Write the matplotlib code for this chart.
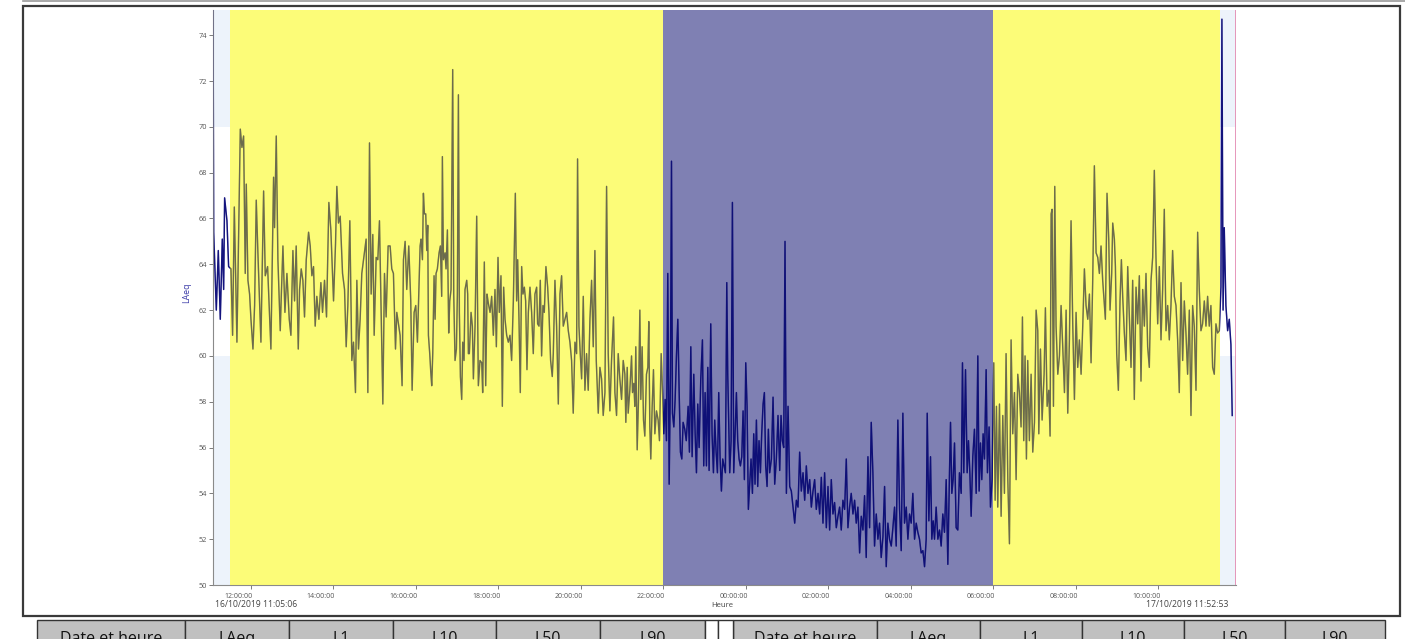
import matplotlib
matplotlib.use("Agg")
import matplotlib.pyplot as plt
import matplotlib.dates as mdates
import pandas as pd
from matplotlib.patches import Rectangle
from matplotlib.lines import Line2D
from matplotlib.transforms import ScaledTranslation

# ---------------- data ----------------
START = pd.Timestamp("2019-10-16 11:05:06")
END = pd.Timestamp("2019-10-17 11:52:53")
day1_start = pd.Timestamp("2019-10-16 11:30:00")
night_start = pd.Timestamp("2019-10-16 22:00:00")
night_end = pd.Timestamp("2019-10-17 06:00:00")
day2_end = pd.Timestamp("2019-10-17 11:30:00")

start_label = "16/10/2019 11:05:06"
end_label = "17/10/2019 11:52:53"
x_label = "Heure"
y_label = "LAeq"
y_ticks = [50, 52, 54, 56, 58, 60, 62, 64, 66, 68, 70, 72, 74]
tick_times = pd.date_range("2019-10-16 12:00", "2019-10-17 10:00", freq="2h")
table_headers = ["Date et heure", "LAeq", "L1", "L10", "L50", "L90"]

# minutes after START, LAeq (dB)
seg1_t = [0, 1, 4.8, 7.7, 10.6, 13.5, 15.5, 16.9, 20.3, 22.7, 26.1, 28.5, 31, 34.8, 39.7,
          42.1, 44.5, 46.9, 48.4, 50.8, 53.2, 55.2, 58.1, 60.5, 62.9, 65.3, 69.7, 73.6, 76, 79.4,
          84.2, 88.1, 89.5, 92, 94.4, 97.8, 99.2, 101.7, 104.6, 107.5, 110.9, 113.3, 116.2, 118.6, 121,
          124, 125.9, 128.3, 130.7, 133.1, 135.6, 139, 141.4, 143.8, 146.2, 148.6, 151, 154, 156.9, 159.3,
          162.2, 165.1, 168.5, 171.4, 175.3, 178.2, 180.1, 182.5, 185, 188.4, 191.3, 193.7, 196.1, 199, 201.9,
          204.3, 207.2, 209.2, 211.6, 214, 216.4, 219.8, 222.7, 225.2, 227.6, 230, 232.4, 234.4, 237.3, 239.7,
          242.1, 244.5, 247, 249.4, 251.8, 254.7, 257.6, 260, 262.4, 265.4, 267.3, 269.7, 272.1, 275, 277,
          279.4, 281.8, 284.7, 287.6, 289.6, 292.5, 294.9, 297.3]
seg1_v = [76, 65.4, 62.0, 64.6, 61.6, 65.1, 62.9, 66.9, 65.9, 63.9, 63.8, 60.9, 66.5, 60.6, 69.9,
          69.1, 69.6, 63.6, 67.5, 63.3, 62.7, 61.6, 60.3, 62.2, 66.8, 64.5, 60.6, 67.2, 63.5, 63.9,
          60.3, 67.8, 65.6, 69.6, 64.2, 61.1, 62.5, 64.8, 61.9, 63.6, 61.6, 60.9, 64.6, 62.4, 64.8,
          60.3, 62.9, 63.8, 63.3, 61.7, 64.2, 65.4, 64.8, 63.5, 63.9, 61.3, 62.6, 61.6, 63.2, 61.9,
          63.3, 61.7, 66.7, 65.5, 62.4, 64.9, 67.4, 65.8, 66.1, 63.6, 62.9, 60.4, 62.2, 65.9, 59.8,
          60.6, 58.4, 63.3, 60.3, 61.6, 63.6, 64.4, 65.1, 58.4, 69.3, 62.7, 65.3, 60.9, 64.3, 64.2,
          65.9, 61.9, 57.9, 63.6, 61.7, 64.8, 64.8, 63.8, 63.6, 60.3, 61.9, 61.4, 60.9, 58.7, 64.2,
          65.0, 62.9, 64.8, 62.4, 58.5, 61.9, 62.2, 60.6]

seg2_t = [301.2, 302.6, 304.6, 306.0, 307.5, 309.4, 310.9, 312.3, 313.3, 315.2,
          316.7, 318.1, 319.6, 321.5, 323.0, 324.4, 326.3, 328.8, 330.7, 332.6,
          333.6, 335.1, 337.5, 338.9, 340.9, 342.8, 344.3, 346.2, 348.6, 350.1,
          352.0, 354.0, 355.4, 356.9, 358.3, 359.8, 361.7, 363.2, 365.1, 366.5,
          369.0, 370.4, 371.4, 372.8, 375.3, 377.2, 378.7, 381.1, 383.5, 384.9,
          385.9, 388.3, 390.8, 392.2, 394.6, 396.6, 398.5, 400.4, 402.9, 405.3,
          407.7, 410.1, 412.1, 414.5, 416.4, 418.8, 420.8, 422.7, 424.7, 427.1,
          429.5, 431.9, 434.3, 436.8, 439.7, 441.6, 443.1, 445.0, 446.9, 448.9,
          450.8, 452.8, 454.7, 456.6, 458.6, 461.0, 463.4, 465.8, 468.2, 470.7,
          472.1, 474.1, 476.0, 477.9, 479.9, 481.8, 484.2, 486.7, 488.6, 491.0,
          493.4, 494.9, 497.3, 499.7, 502.2, 504.6, 507.0, 509.4, 511.8, 514.3,
          516.7, 519.1, 521.5, 523.9, 526.4, 528.8, 530.2, 532.2, 534.1, 536.1,
          538.5, 540.9, 543.3, 545.7, 548.2, 550.6, 553.0, 555.4, 557.4, 560.3,
          562.7, 565.1, 567.5, 570.0, 572.4, 574.8, 577.2, 579.6, 582.5, 584.5,
          586.9, 589.3, 591.7, 594.2, 596.6]
seg2_v = [64.8, 65.1, 64.2, 67.1, 66.2, 66.2, 64.6, 65.7, 60.9, 60.1,
          59.3, 58.7, 60.1, 63.5, 61.6, 63.6, 63.8, 64.5, 64.8, 62.6,
          68.7, 64.2, 64.5, 63.8, 65.5, 61.0, 62.4, 62.9, 72.5, 62.7,
          59.8, 60.3, 62.7, 71.4, 61.9, 59.1, 58.1, 60.6, 59.8, 62.9,
          63.3, 62.7, 60.1, 60.1, 61.9, 61.3, 59.0, 61.3, 66.1, 61.9,
          58.7, 59.8, 59.7, 58.4, 64.1, 58.7, 62.7, 62.3, 61.9, 62.6,
          60.9, 62.9, 60.4, 64.3, 61.9, 63.5, 57.8, 63.0, 61.6, 60.9,
          60.6, 60.9, 59.8, 62.4, 67.1, 62.4, 64.2, 61.6, 58.4, 63.9,
          62.7, 63.0, 62.4, 59.4, 61.9, 63.0, 61.9, 60.1, 62.7, 63.0,
          61.4, 61.3, 63.3, 60.0, 62.2, 61.9, 63.9, 63.0, 61.9, 59.8,
          59.1, 60.1, 63.3, 61.3, 57.9, 62.7, 63.5, 61.3, 61.6, 61.9,
          61.1, 60.6, 59.8, 57.5, 60.6, 60.1, 68.6, 61.3, 60.1, 59.0,
          62.6, 58.5, 60.1, 58.5, 61.6, 63.3, 60.4, 64.6, 59.8, 57.5,
          59.5, 59.0, 57.4, 58.4, 67.4, 60.1, 57.6, 59.8, 61.7, 58.4,
          57.4, 60.1, 59.0, 58.1, 59.8]

seg3_t = [599.0, 600.4, 602.4, 603.8, 606.2, 608.7, 610.1, 612.0, 613.5, 614.9,
          616.9, 618.8, 620.8, 622.2, 624.1, 626.1, 628.0, 630.4, 632.4, 633.8,
          635.3, 636.7, 638.7, 640.6, 642.6, 645.0, 647.4, 649.3, 651.8, 653.7,
          655.6, 657.6, 659.5, 661.4, 663.4, 665.3, 666.8, 668.2, 670.2, 672.1,
          674.0, 676.0, 677.9, 679.8, 681.8, 683.7, 686.1, 688.3, 691.0, 692.9,
          694.9, 696.8, 699.2, 701.2, 703.1, 705.0, 707.0, 709.4, 711.8, 713.7,
          715.7, 717.6, 719.6, 721.5, 723.9, 725.8, 727.8, 729.7, 731.7, 733.6,
          735.5, 737.5, 739.4, 741.3, 743.3, 745.2, 747.2, 748.6, 750.1, 751.5,
          753.5, 755.4, 757.3, 759.3, 761.2, 763.1, 765.1, 767.0, 769.0, 770.9,
          772.8, 774.8, 776.7, 778.6, 780.6, 782.5, 784.5, 786.4, 788.3, 790.3,
          792.2, 794.1, 796.1, 798.0, 800.0, 801.9, 803.8, 805.8, 807.7, 809.6,
          812.1, 814.5, 816.9, 819.3, 821.7, 824.2, 826.1, 828.0, 830.0, 831.9,
          833.9, 836.3, 838.7, 841.1, 843.5, 846.0, 848.4, 850.8, 853.2, 855.6,
          858.1, 860.5, 862.9, 865.3, 867.8, 870.2, 872.6, 875.0, 877.4, 879.9,
          882.3, 884.7, 887.1, 889.5, 892.0, 894.4]
seg3_v = [59.2, 57.1, 59.5, 57.5, 58.5, 60.0, 58.4, 58.8, 57.8, 60.4,
          55.9, 58.1, 62.0, 58.1, 60.4, 57.2, 56.5, 59.2, 59.5, 61.5,
          56.9, 55.5, 57.8, 59.4, 56.6, 57.6, 57.2, 56.3, 60.1, 58.5,
          56.6, 58.1, 56.3, 63.6, 54.4, 59.2, 68.5, 57.5, 56.9, 58.1,
          60.0, 61.6, 58.5, 55.8, 55.5, 57.1, 56.8, 56.3, 57.8, 55.8,
          60.4, 55.6, 59.2, 56.6, 54.9, 57.9, 56.0, 59.0, 60.7, 55.2,
          58.4, 55.2, 59.5, 55.0, 61.4, 56.6, 54.9, 57.2, 55.8, 54.9,
          58.4, 55.5, 54.1, 55.5, 55.2, 54.9, 63.2, 59.2, 56.9, 54.9,
          56.3, 66.7, 54.9, 56.6, 58.4, 56.3, 55.5, 55.2, 55.6, 57.6,
          54.6, 59.7, 57.8, 53.3, 54.4, 55.5, 54.0, 56.6, 54.4, 57.2,
          54.3, 56.3, 54.9, 56.6, 57.9, 58.4, 55.2, 54.3, 56.8, 54.9,
          55.5, 58.2, 54.4, 55.5, 57.4, 55.0, 57.4, 56.3, 56.0, 65.0,
          54.0, 57.8, 54.3, 54.1, 53.4, 52.7, 53.7, 53.4, 55.8, 54.1,
          54.9, 53.7, 55.2, 54.0, 54.6, 53.4, 54.1, 54.6, 53.3, 54.0,
          53.1, 54.7, 52.7, 54.9, 52.5, 54.3]

seg4_t = [896.8, 899.2, 901.6, 904.0, 906.5, 908.9, 911.3, 913.7, 916.1, 918.6,
          921.0, 923.4, 925.8, 928.2, 930.7, 933.1, 935.5, 937.9, 940.4, 942.8,
          945.2, 947.6, 950.0, 952.5, 954.9, 957.3, 959.7, 962.1, 964.6, 967.0,
          969.4, 971.8, 974.3, 976.7, 979.1, 981.5, 983.9, 986.4, 988.8, 991.2,
          993.6, 996.0, 998.5, 1000.9, 1003.3, 1005.7, 1008.2, 1010.6, 1013.0, 1015.4,
          1017.8, 1020.3, 1022.7, 1025.1, 1027.5, 1029.9, 1032.4, 1034.8, 1037.2, 1038.7,
          1041.1, 1043.5, 1045.4, 1047.4, 1049.3, 1051.7, 1054.2, 1056.6, 1059.0, 1061.4,
          1063.8, 1066.3, 1068.7, 1071.1, 1072.6, 1074.5, 1076.4, 1078.4, 1080.8, 1083.2,
          1085.6, 1088.1, 1090.0, 1091.9, 1094.4, 1096.8, 1098.7, 1100.7, 1102.6, 1105.0,
          1107.4, 1109.9, 1112.3, 1114.2, 1116.2, 1118.1, 1120.0, 1122.0, 1124.4, 1126.3,
          1128.7, 1130.7, 1133.1, 1135.5, 1137.5, 1139.4, 1141.3, 1143.8, 1146.2, 1148.6,
          1151.0, 1153.4, 1155.9, 1158.3, 1160.7, 1163.1, 1165.6, 1168.0, 1170.4, 1172.8,
          1175.2, 1177.2, 1179.1, 1181.0, 1183.0, 1184.9, 1187.3, 1189.8, 1192.2]
seg4_v = [52.4, 54.6, 53.1, 53.6, 52.5, 53.0, 53.4, 52.4, 53.7, 53.3,
          55.5, 52.5, 53.4, 54.0, 53.1, 53.7, 52.7, 53.4, 51.4, 53.0,
          52.4, 53.9, 51.2, 55.6, 52.5, 57.1, 54.9, 51.7, 53.1, 52.0,
          52.7, 51.2, 52.1, 54.3, 50.8, 52.7, 52.0, 51.7, 52.5, 53.4,
          51.7, 57.2, 53.3, 51.5, 57.5, 52.7, 53.4, 52.0, 53.1, 52.7,
          54.0, 52.0, 52.7, 52.3, 52.0, 51.4, 51.5, 50.8, 52.0, 57.5,
          52.8, 55.6, 52.0, 52.8, 52.0, 53.4, 52.0, 52.4, 51.7, 53.1,
          52.3, 54.6, 50.9, 54.9, 57.1, 54.0, 54.6, 56.2, 52.5, 52.4,
          54.9, 54.0, 59.7, 54.9, 59.4, 54.9, 56.3, 54.9, 53.0, 55.6,
          56.8, 54.0, 60.0, 54.1, 56.2, 54.6, 56.6, 55.5, 59.4, 54.9,
          56.9, 53.4, 54.6, 59.7, 53.7, 57.8, 53.4, 57.9, 53.0, 57.4,
          54.0, 60.1, 54.6, 51.8, 60.7, 56.6, 58.4, 54.6, 59.2, 58.4,
          56.9, 61.7, 56.3, 60.0, 55.5, 59.8, 56.3, 59.2, 55.8]

seg5_t = [1194.7, 1197.1, 1199.5, 1201.0, 1203.4, 1205.8, 1208.7, 1210.6, 1213.1, 1215.5,
          1217.4, 1218.9, 1220.3, 1222.3, 1224.2, 1226.1, 1228.6, 1231.0, 1233.4, 1235.8,
          1238.3, 1240.7, 1243.1, 1245.5, 1247.9, 1250.4, 1252.8, 1255.2, 1257.6, 1260.0,
          1262.5, 1264.9, 1267.3, 1269.7, 1272.2, 1274.6, 1277.0, 1279.4, 1281.8, 1284.3,
          1286.7, 1289.1, 1291.5, 1293.9, 1296.4, 1297.8, 1300.2, 1302.7, 1304.6, 1307.0,
          1308.5, 1310.9, 1312.4, 1314.3, 1316.7, 1319.1, 1321.1, 1323.0, 1325.4, 1327.8,
          1330.3, 1332.7, 1335.1, 1337.5, 1339.9, 1342.4, 1344.8, 1347.2, 1349.6, 1352.1,
          1354.5, 1356.9, 1359.3, 1361.7, 1364.2, 1366.6, 1369.0, 1371.4, 1373.9, 1376.3,
          1378.7, 1381.1, 1383.5, 1386.0, 1388.4, 1390.8, 1393.2, 1395.6, 1398.1, 1400.5,
          1402.9, 1405.3, 1407.8, 1410.2, 1412.6, 1415.0, 1417.4, 1419.9, 1422.3, 1424.7,
          1427.1, 1429.6, 1432.0, 1434.4, 1436.8, 1439.2, 1441.7, 1444.1, 1446.5, 1448.9,
          1451.3, 1453.8, 1456.2, 1458.6, 1461.0, 1463.5, 1465.9, 1467.3, 1469.0, 1470.7,
          1473.1, 1475.6, 1478.0, 1480.4, 1482.3]
seg5_v = [57.1, 62.0, 61.1, 56.6, 60.3, 57.2, 59.2, 62.1, 57.8, 58.5,
          56.5, 66.2, 66.4, 57.8, 67.4, 61.3, 59.2, 60.0, 62.2, 60.4,
          58.4, 62.0, 57.5, 60.7, 65.9, 61.3, 58.1, 61.9, 59.5, 60.7,
          59.2, 61.3, 63.8, 62.2, 61.6, 62.7, 59.7, 63.3, 68.3, 64.5,
          64.3, 63.6, 64.8, 63.3, 62.2, 61.6, 67.1, 65.1, 62.0, 63.6,
          65.8, 65.1, 63.9, 60.1, 58.5, 62.4, 64.2, 62.6, 61.0, 59.8,
          63.9, 61.7, 59.5, 63.3, 58.1, 63.0, 61.4, 63.5, 58.9, 62.9,
          61.3, 63.6, 60.4, 59.5, 63.3, 64.3, 68.1, 64.3, 61.4, 63.9,
          60.7, 62.9, 66.4, 61.1, 62.2, 60.7, 62.2, 64.6, 62.6, 62.2,
          60.7, 58.4, 63.2, 59.8, 62.4, 61.0, 59.2, 62.0, 57.4, 62.2,
          61.3, 58.5, 65.4, 62.9, 61.1, 61.4, 62.4, 61.3, 62.6, 61.3,
          62.2, 59.5, 59.2, 61.4, 61.0, 61.1, 63.0, 74.7, 62.0, 65.6,
          62.2, 61.1, 61.6, 60.5, 57.4]

minutes = seg1_t + seg2_t + seg3_t + seg4_t + seg5_t
laeq = seg1_v + seg2_v + seg3_v + seg4_v + seg5_v
n = min(len(minutes), len(laeq))
times = START + pd.to_timedelta(minutes[:n], unit="min")
laeq = laeq[:n]

# ---------------- figure ----------------
W, H = 1405, 639
fig = plt.figure(figsize=(W / 100, H / 100), dpi=100)
fig.patch.set_facecolor("white")
plt.rcParams["font.family"] = ["Open Sans", "DejaVu Sans"]


def fx(x):
    return x / W


def fy(y):
    return 1 - y / H


ax = fig.add_axes([fx(213), fy(585), fx(1236) - fx(213), fy(10) - fy(585)])
ax.set_facecolor("white")

# light background bands (visible only outside the period overlays)
band_color = "#edf3fb"
for (a, b) in [(START, day1_start), (day2_end, END)]:
    ax.fill_between([a, b], 70, 76, color=band_color, lw=0, zorder=0)
    ax.fill_between([a, b], 50, 60, color=band_color, lw=0, zorder=0)

ax.axvline(START, color="#e07f90", lw=1.3, zorder=1)
ax.axvline(END, color="#e48fb5", lw=1.3, zorder=1)

ax.plot(times, laeq, color="#14147e", lw=1.05, zorder=2)

# period overlays
yellow = (0.98, 0.98, 0.0)
ax.axvspan(day1_start, night_start, color=yellow, alpha=0.53, lw=0, zorder=3)
ax.axvspan(night_end, day2_end, color=yellow, alpha=0.53, lw=0, zorder=3)
ax.axvspan(night_start, night_end, color="#0a0c6e", alpha=0.52, lw=0, zorder=3)

# faint tint of the trace seen through the overlays
ax.plot(times, laeq, color="#14147e", lw=0.9, alpha=0.28, zorder=4)

ax.set_xlim(START, END)
ax.set_ylim(50, 75.1)

for s in ["top", "right"]:
    ax.spines[s].set_visible(False)
for s in ["left", "bottom"]:
    ax.spines[s].set_color("#8a8a8a")
    ax.spines[s].set_linewidth(0.8)

ax.set_yticks(y_ticks)
ax.set_yticklabels([str(v) for v in y_ticks])
ax.set_xticks(mdates.date2num(tick_times))
ax.set_xticklabels([t.strftime("%H:%M:%S") for t in tick_times])
ax.tick_params(axis="y", direction="out", length=3, width=0.6, color="#666666",
               labelsize=5.3, labelcolor="#555555", pad=1)
ax.tick_params(axis="x", direction="out", length=3, width=0.6, color="#666666",
               labelsize=5.0, labelcolor="#555555", pad=2.5)
offset = ScaledTranslation(2 / 100, 0, fig.dpi_scale_trans)
for lab in ax.get_xticklabels():
    lab.set_ha("right")
    lab.set_transform(lab.get_transform() + offset)

fig.text(fx(215), fy(604.5), start_label, ha="left", va="center", fontsize=6.2, color="#444444")
fig.text(fx(1228), fy(604.5), end_label, ha="right", va="center", fontsize=6.2, color="#444444")
fig.text(fx(722), fy(605.5), x_label, ha="center", va="center", fontsize=5.6, color="#444444")
fig.text(fx(187), fy(293), y_label, ha="center", va="center", rotation=90, fontsize=6.3,
         color="#3b3ba8")

# outer frame
fig.add_artist(Rectangle((fx(23), fy(616)), fx(1400) - fx(23), fy(6) - fy(616),
                         transform=fig.transFigure, fill=False, ec="#3a3a3a", lw=1.6))
fig.add_artist(Line2D([fx(23), fx(1405)], [fy(0.6), fy(0.6)], transform=fig.transFigure,
                      color="#9a9a9a", lw=1.2))

# table headers (only their top part is inside the picture, as in the original page)
left_edges = [37, 185, 289, 393, 496, 600, 705]
right_edges = [733, 877, 980, 1082, 1184, 1285, 1385]
for edges in (left_edges, right_edges):
    for i, name in enumerate(table_headers):
        x0, x1 = edges[i], edges[i + 1]
        fig.add_artist(Rectangle((fx(x0), fy(650)), fx(x1) - fx(x0), fy(620) - fy(650),
                                 transform=fig.transFigure, fc="#c0c0c0", ec="#333333", lw=1.0))
        fig.text(fx((x0 + x1) / 2), fy(643), name, ha="center", va="baseline",
                 fontsize=11.5, color="#111111")
for x0, x1 in [(705, 718), (718, 733)]:
    fig.add_artist(Rectangle((fx(x0), fy(650)), fx(x1) - fx(x0), fy(620) - fy(650),
                             transform=fig.transFigure, fc="white", ec="#333333", lw=1.0))

fig.savefig("out.png", dpi=100)
